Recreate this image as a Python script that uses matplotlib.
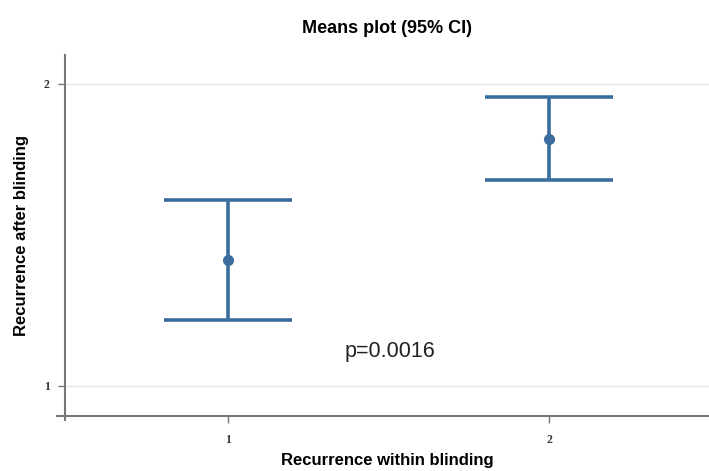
import matplotlib
matplotlib.use("Agg")
import matplotlib.pyplot as plt
import numpy as np

groups = [1, 2]
means = [1.417, 1.818]
lower = [1.219, 1.682]
upper = [1.616, 1.957]
yticks = [1, 2]
title = "Means plot (95% CI)"
xlabel = "Recurrence within blinding"
ylabel = "Recurrence after blinding"
annotation = "p=0.0016"

plt.rcParams['font.family'] = ['Liberation Sans', 'DejaVu Sans']

fig = plt.figure(figsize=(7.09, 4.71), dpi=100)
ax = fig.add_axes([0.0917, 0.1168, 0.9083, 0.7664])

color = "#3a6d9e"
cap_half = 0.2
g = np.array(groups, dtype=float)
ax.vlines(g, lower, upper, color=color, lw=2.6, zorder=3)
ax.hlines(lower, g - cap_half, g + cap_half, color=color, lw=2.6, zorder=3)
ax.hlines(upper, g - cap_half, g + cap_half, color=color, lw=2.6, zorder=3)
ax.plot(g, means, 'o', color=color, ms=7, zorder=4)

ax.set_xlim(0.492, 2.498)
ax.set_ylim(0.90, 2.096)
ax.set_xticks(groups)
ax.set_yticks(yticks)
ax.set_xticklabels([str(v) for v in groups], fontsize=8.5, fontweight='bold',
                   family=['Liberation Serif', 'DejaVu Serif'])
ax.set_yticklabels([str(v) for v in yticks], fontsize=8.5, fontweight='bold',
                   family=['Liberation Serif', 'DejaVu Serif'])
for y in yticks:
    ax.axhline(y, color="#e6e6e6", lw=1, zorder=1)

for s in ['top', 'right']:
    ax.spines[s].set_visible(False)
for s in ['left', 'bottom']:
    ax.spines[s].set_color("#777777")
    ax.spines[s].set_linewidth(1.5)
# small overhang at the axis corner
ax.plot([-0.012, 0], [0, 0], transform=ax.transAxes, color="#777777", lw=1.5, clip_on=False)
ax.plot([0, 0], [-0.012, 0], transform=ax.transAxes, color="#777777", lw=1.5, clip_on=False)
ax.tick_params(colors="#777777", length=5, width=1, labelcolor="#333333", pad=6)
ax.tick_params(axis='x', pad=8)

ax.set_title(title, fontsize=13, fontweight='bold', pad=16)
ax.set_xlabel(xlabel, fontsize=12, fontweight='bold', labelpad=5)
ax.set_ylabel(ylabel, fontsize=12, fontweight='bold', labelpad=11)
ax.text(1.505, 1.113, annotation, fontsize=15.5, ha='center', va='center', color="#222222")

fig.savefig("out.png", dpi=100)
